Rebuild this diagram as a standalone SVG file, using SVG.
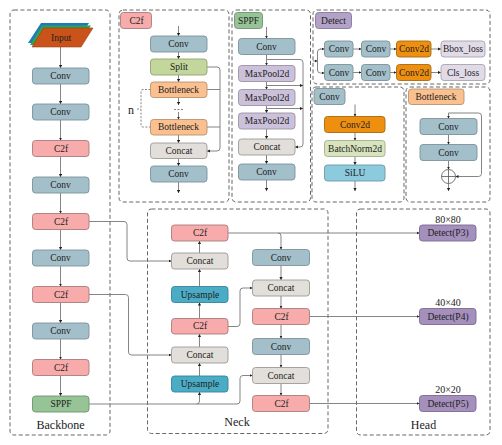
<svg xmlns="http://www.w3.org/2000/svg" width="502" height="445" viewBox="0 0 502 445">
<style>
text{font-family:"Liberation Serif","Times New Roman",serif;font-size:9.5px;fill:#222;text-anchor:middle;dominant-baseline:central}
.big{font-size:12px;dominant-baseline:auto}
.mid{font-size:10px;dominant-baseline:auto}
.panel{fill:none;stroke:#555;stroke-width:.9;stroke-dasharray:4 2.5}
.n rect{rx:3px;stroke-width:.9}
.conv{fill:#a3bfc9;stroke:#7d9199}.c2f{fill:#f7abab;stroke:#a87c7c}.concat{fill:#e2dfda;stroke:#9c9a96}
.split{fill:#c3d69b;stroke:#93a275}.bn{fill:#fac090;stroke:#b8936f}.sppf{fill:#97c497;stroke:#6f9370}
.mp{fill:#ccc1da;stroke:#9a92a4}.det{fill:#b3a2c7;stroke:#84789a}.c2d{fill:#ee8f0f;stroke:#a86a10}
.bat{fill:#d7e4bd;stroke:#a2ad8f}.sil{fill:#8ccadd;stroke:#6a98a6}.up{fill:#4bacc6;stroke:#39829a}
.loss{fill:#e1dbe8;stroke:#a9a4af}.hd{fill:#a590bd;stroke:#7a6a8e}
.w path{fill:none;stroke:#777;stroke-width:.9}
.w path.a{marker-end:url(#ar)}
.w path.d{stroke-dasharray:2 1.5}
</style>
<defs><marker id="ar" markerUnits="userSpaceOnUse" markerWidth="4" markerHeight="4" refX="3" refY="1.600" orient="auto"><path d="M0 0L3 1.600L0 3.200Z" fill="#222"/></marker></defs>
<g id="panels">
<rect class="panel" x="10" y="10" width="100" height="425" rx="4"/>
<rect class="panel" x="119" y="10" width="110" height="192" rx="4"/>
<rect class="panel" x="232" y="10" width="78.500" height="192" rx="4"/>
<rect class="panel" x="313" y="10" width="177" height="74" rx="4"/>
<rect class="panel" x="312" y="87" width="92" height="115" rx="4"/>
<rect class="panel" x="406" y="87" width="84" height="115" rx="4"/>
<rect class="panel" x="147.500" y="209" width="180.500" height="224.500" rx="4"/>
<rect class="panel" x="356.500" y="209" width="133.500" height="226" rx="4"/>
</g>
<g id="connectors" class="w">
<path class="a" d="M60.500 47V68"/><path class="a" d="M60.500 84V104"/><path class="a" d="M60.500 120V140.500"/><path class="a" d="M60.500 156.500V177"/><path class="a" d="M60.500 193V213.500"/><path class="a" d="M60.500 229.500V250"/><path class="a" d="M60.500 266V286.500"/><path class="a" d="M60.500 302.500V323"/><path class="a" d="M60.500 339V359.500"/><path class="a" d="M60.500 375.500V396"/>
<path class="a" d="M178.500 26V36"/><path class="a" d="M178.500 52V59"/><path class="a" d="M178.500 75V82"/><path class="a" d="M178.500 97.500V105"/><path class="d" d="M174 109.500H183"/><path class="a" d="M178.500 112V119.500"/><path class="a" d="M178.500 135V143"/><path class="a" d="M178.500 158.500V166"/><path class="a" d="M178.500 182V193"/>
<path class="a" d="M207 67H217Q220 67 220 70V148Q220 151 217 151H207"/><path d="M207 89.500H220"/><path d="M207 127H220"/>
<path class="d" d="M150.500 89.500H143Q141 89.500 141 91.500V125Q141 127 143 127H150.500"/><path class="d" d="M137 109H141"/>
<path class="a" d="M266.500 27V38.500"/><path class="a" d="M266.500 54.500V65.500"/><path class="a" d="M266.500 81.500V89.500"/><path class="a" d="M266.500 105.500V113"/><path class="a" d="M266.500 129V139"/><path class="a" d="M266.500 155V164"/><path class="a" d="M266.500 180V191"/>
<path class="a" d="M266.500 59.500H300Q303 59.500 303 62.500V144Q303 147 300 147H295"/><path class="a" d="M266.500 85.500H303"/><path class="a" d="M266.500 108.500H303"/>
<path class="a" d="M313 61H317.500"/><path class="a" d="M320 49H320.500Q317.500 49 317.500 52V70Q317.500 73 320.500 73H324.500"/><path class="a" d="M320 49H324.500"/>
<path class="a" d="M353 49H361.500"/><path class="a" d="M390 49H396.500"/><path class="a" d="M431 49H441"/><path class="a" d="M353 72.500H361.500"/><path class="a" d="M390 72.500H396.500"/><path class="a" d="M431 72.500H441"/>
<path class="a" d="M355 104.500V116.500"/><path class="a" d="M355 132.500V140.500"/><path class="a" d="M355 156.500V165"/><path class="a" d="M355 181V191"/>
<path class="a" d="M448.500 113V118.500"/><path d="M448.500 113H478.500Q481.500 113 481.500 116V173.500Q481.500 176.500 478.500 176.500H455.500" class="a"/><path class="a" d="M448.500 134.500V144.500"/><path class="a" d="M448.500 160.500V169.500"/><path class="a" d="M448.500 183.500V191"/>
<path class="a" d="M89 221.500H124Q127 221.500 127 224.500V258Q127 261 130 261H171.500"/>
<path class="a" d="M89 294.500H125.500Q128.500 294.500 128.500 297.500V352Q128.500 355 131.500 355H171.500"/>
<path class="a" d="M89 404H237Q240 404 240 401V378.500Q240 375.500 243 375.500H252.500"/>
<path class="a" d="M196.500 404Q199.500 404 199.500 401V392"/>
<path class="a" d="M228 326.500H237Q240 326.500 240 323.500V291Q240 288 243 288H252.500"/>
<path class="a" d="M228 233H419.500"/><path class="a" d="M278 233Q281 233 281 236V249.500"/>
<path class="a" d="M309.500 316.500H419.500"/><path class="a" d="M309.500 403.500H419.500"/>
<path class="a" d="M199.500 253V241"/><path class="a" d="M199.500 286.500V269"/><path class="a" d="M199.500 318.500V302.500"/><path class="a" d="M199.500 347V334"/><path class="a" d="M199.500 376V363"/>
<path class="a" d="M281 265.500V280"/><path class="a" d="M281 296V308.500"/><path class="a" d="M281 324.500V338.500"/><path class="a" d="M281 354.500V367.500"/><path class="a" d="M281 383.500V395.500"/>
</g>
<g id="input"><polygon points="28,43 41,23 89,23 76,43" fill="#1f77c0"/><polygon points="30,45 42,25.500 91,25.500 78,45" fill="#2ea44f"/><polygon points="32,47 43.500,28 93,28 81,47" fill="#c9531a" stroke="#9b4216" stroke-width=".6"/><text x="61" y="37.500">Input</text></g>
<g id="bb-conv1" class="n"><rect class="conv" x="32.500" y="68" width="56.500" height="16"/><text x="60.500" y="76">Conv</text></g>
<g id="bb-conv2" class="n"><rect class="conv" x="32.500" y="104" width="56.500" height="16"/><text x="60.500" y="112">Conv</text></g>
<g id="bb-c2f1" class="n"><rect class="c2f" x="32.500" y="140.500" width="56.500" height="16"/><text x="61" y="148.500">C2f</text></g>
<g id="bb-conv3" class="n"><rect class="conv" x="32.500" y="177" width="56.500" height="16"/><text x="60.500" y="185">Conv</text></g>
<g id="bb-c2f2" class="n"><rect class="c2f" x="32.500" y="213.500" width="56.500" height="16"/><text x="61" y="221.500">C2f</text></g>
<g id="bb-conv4" class="n"><rect class="conv" x="32.500" y="250" width="56.500" height="16"/><text x="60.500" y="258">Conv</text></g>
<g id="bb-c2f3" class="n"><rect class="c2f" x="32.500" y="286.500" width="56.500" height="16"/><text x="61" y="294.500">C2f</text></g>
<g id="bb-conv5" class="n"><rect class="conv" x="32.500" y="323" width="56.500" height="16"/><text x="60.500" y="331">Conv</text></g>
<g id="bb-c2f4" class="n"><rect class="c2f" x="32.500" y="359.500" width="56.500" height="16"/><text x="61" y="367.500">C2f</text></g>
<g id="bb-sppf" class="n"><rect class="sppf" x="32.500" y="396" width="56.500" height="16"/><text x="61" y="404">SPPF</text></g>
<text class="big" x="60.500" y="429">Backbone</text>
<g id="c2f-title" class="n"><rect class="c2f" x="120.500" y="12.500" width="31" height="16"/><text x="136.500" y="20.500">C2f</text></g>
<g id="c2f-conv1" class="n"><rect class="conv" x="150.500" y="36" width="56.500" height="16"/><text x="178.500" y="44">Conv</text></g>
<g id="c2f-split" class="n"><rect class="split" x="150.500" y="59" width="56.500" height="16"/><text x="179" y="67">Split</text></g>
<g id="c2f-bn1" class="n"><rect class="bn" x="150.500" y="82" width="56.500" height="15.500"/><text x="178.500" y="89.750">Bottleneck</text></g>
<g id="c2f-bn2" class="n"><rect class="bn" x="150.500" y="119.500" width="56.500" height="15.500"/><text x="178.500" y="127.250">Bottleneck</text></g>
<g id="c2f-concat" class="n"><rect class="concat" x="150.500" y="143" width="56.500" height="15.500"/><text x="179" y="150.750">Concat</text></g>
<g id="c2f-conv2" class="n"><rect class="conv" x="150.500" y="166" width="56.500" height="16"/><text x="178.500" y="174">Conv</text></g>
<text x="131" y="109.500" style="font-size:12px">n</text>
<g id="sppf-title" class="n"><rect class="sppf" x="234.500" y="12.500" width="28" height="16"/><text x="248.500" y="20.500">SPPF</text></g>
<g id="sppf-conv1" class="n"><rect class="conv" x="238.500" y="38.500" width="56.500" height="16"/><text x="266.500" y="46.500">Conv</text></g>
<g id="sppf-mp1" class="n"><rect class="mp" x="238.500" y="65.500" width="56.500" height="16"/><text x="267" y="73.500">MaxPool2d</text></g>
<g id="sppf-mp2" class="n"><rect class="mp" x="238.500" y="89.500" width="56.500" height="16"/><text x="267" y="97.500">MaxPool2d</text></g>
<g id="sppf-mp3" class="n"><rect class="mp" x="238.500" y="113" width="56.500" height="16"/><text x="267" y="121">MaxPool2d</text></g>
<g id="sppf-concat" class="n"><rect class="concat" x="238.500" y="139" width="56.500" height="16"/><text x="267" y="147">Concat</text></g>
<g id="sppf-conv2" class="n"><rect class="conv" x="238.500" y="164" width="56.500" height="16"/><text x="266.500" y="172">Conv</text></g>
<g id="detect-title" class="n"><rect class="det" x="315.500" y="12.500" width="36" height="16"/><text x="333.500" y="20.500">Detect</text></g>
<g id="d-conv1" class="n"><rect class="conv" x="324.500" y="41" width="28.500" height="16"/><text x="339" y="49">Conv</text></g>
<g id="d-conv2" class="n"><rect class="conv" x="361.500" y="41" width="28.500" height="16"/><text x="376" y="49">Conv</text></g>
<g id="d-c2d1" class="n"><rect class="c2d" x="396.500" y="41" width="34.500" height="16"/><text x="414" y="49">Conv2d</text></g>
<g id="d-bbox" class="n"><rect class="loss" x="441" y="41" width="44" height="16"/><text x="463" y="49">Bbox_loss</text></g>
<g id="d-conv3" class="n"><rect class="conv" x="324.500" y="64.500" width="28.500" height="16"/><text x="339" y="72.500">Conv</text></g>
<g id="d-conv4" class="n"><rect class="conv" x="361.500" y="64.500" width="28.500" height="16"/><text x="376" y="72.500">Conv</text></g>
<g id="d-c2d2" class="n"><rect class="c2d" x="396.500" y="64.500" width="34.500" height="16"/><text x="414" y="72.500">Conv2d</text></g>
<g id="d-cls" class="n"><rect class="loss" x="441" y="64.500" width="44" height="16"/><text x="463" y="72.500">Cls_loss</text></g>
<g id="conv-title" class="n"><rect class="conv" x="314" y="88.500" width="31" height="16"/><text x="329.500" y="96.500">Conv</text></g>
<g id="conv-c2d" class="n"><rect class="c2d" x="324.500" y="116.500" width="60.500" height="16"/><text x="355" y="124.500">Conv2d</text></g>
<g id="conv-bn" class="n"><rect class="bat" x="324.500" y="140.500" width="60.500" height="16"/><text x="355" y="148.500">BatchNorm2d</text></g>
<g id="conv-silu" class="n"><rect class="sil" x="324.500" y="165" width="60.500" height="16"/><text x="355" y="173">SiLU</text></g>
<g id="bn-title" class="n"><rect class="bn" x="408.500" y="89" width="55.500" height="15.500"/><text x="436" y="96.750">Bottleneck</text></g>
<g id="bn-conv1" class="n"><rect class="conv" x="420" y="118.500" width="57" height="16"/><text x="448.500" y="126.500">Conv</text></g>
<g id="bn-conv2" class="n"><rect class="conv" x="420" y="144.500" width="57" height="16"/><text x="448.500" y="152.500">Conv</text></g>
<g id="bn-add"><circle cx="448.500" cy="176.500" r="7" fill="#fff" stroke="#555" stroke-width=".8"/><path d="M441.500 176.500H455.500M448.500 169.500V183.500" stroke="#555" stroke-width=".8"/></g>
<g id="n-c2f1" class="n"><rect class="c2f" x="171.500" y="225" width="56.500" height="16"/><text x="200" y="233">C2f</text></g>
<g id="n-concat1" class="n"><rect class="concat" x="171.500" y="253" width="56.500" height="16"/><text x="200" y="261">Concat</text></g>
<g id="n-up1" class="n"><rect class="up" x="171.500" y="286.500" width="56.500" height="16"/><text x="200" y="294.500">Upsample</text></g>
<g id="n-c2f2" class="n"><rect class="c2f" x="171.500" y="318.500" width="56.500" height="15.500"/><text x="200" y="326.250">C2f</text></g>
<g id="n-concat2" class="n"><rect class="concat" x="171.500" y="347" width="56.500" height="16"/><text x="200" y="355">Concat</text></g>
<g id="n-up2" class="n"><rect class="up" x="171.500" y="376" width="56.500" height="16"/><text x="200" y="384">Upsample</text></g>
<g id="n-conv1" class="n"><rect class="conv" x="252.500" y="249.500" width="57" height="16"/><text x="281" y="257.500">Conv</text></g>
<g id="n-concat3" class="n"><rect class="concat" x="252.500" y="280" width="57" height="16"/><text x="281" y="288">Concat</text></g>
<g id="n-c2f3" class="n"><rect class="c2f" x="252.500" y="308.500" width="57" height="16"/><text x="281.500" y="316.500">C2f</text></g>
<g id="n-conv2" class="n"><rect class="conv" x="252.500" y="338.500" width="57" height="16"/><text x="281" y="346.500">Conv</text></g>
<g id="n-concat4" class="n"><rect class="concat" x="252.500" y="367.500" width="57" height="16"/><text x="281" y="375.500">Concat</text></g>
<g id="n-c2f4" class="n"><rect class="c2f" x="252.500" y="395.500" width="57" height="16"/><text x="281.500" y="403.500">C2f</text></g>
<text class="big" x="237" y="426">Neck</text>
<g id="h-p3" class="n"><rect class="hd" x="419.500" y="225" width="56.500" height="16"/><text x="448" y="233">Detect(P3)</text></g>
<g id="h-p4" class="n"><rect class="hd" x="419.500" y="308.500" width="56.500" height="16"/><text x="448" y="316.500">Detect(P4)</text></g>
<g id="h-p5" class="n"><rect class="hd" x="419.500" y="395.500" width="56.500" height="16"/><text x="448" y="403.500">Detect(P5)</text></g>
<text class="mid" x="448" y="223">80×80</text><text class="mid" x="448" y="306">40×40</text><text class="mid" x="448" y="393">20×20</text>
<text class="big" x="423.500" y="429">Head</text>
</svg>
